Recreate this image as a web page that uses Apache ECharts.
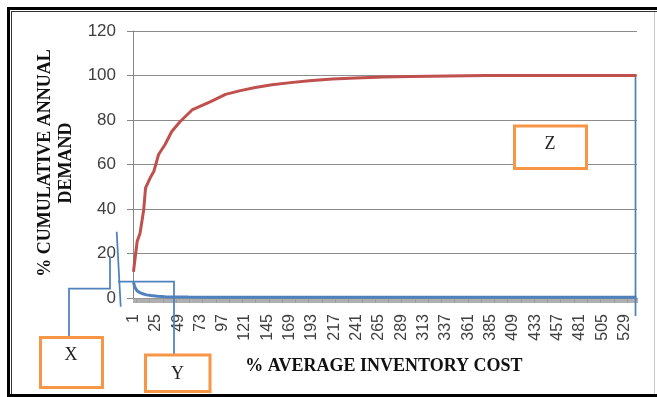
<!DOCTYPE html>
<html>
<head>
<meta charset="utf-8">
<script src="https://cdn.jsdelivr.net/npm/echarts@6/dist/echarts.min.js"></script>
<style>
  html, body { margin: 0; padding: 0; background: #ffffff; }
  #chart { width: 657px; height: 397px; }
</style>
</head>
<body>
<div id="chart"></div>
<script>
// Item ranks along the horizontal axis (1 .. 542)
const itemCount = 542;
const ranks = [];
for (let i = 1; i <= itemCount; i++) ranks.push(String(i));

// Cumulative annual demand (%) at selected ranks
const demandRank = [1, 5, 8, 12, 14, 19, 23, 28, 35, 42, 51, 64, 84, 100, 116, 132, 150, 170, 190, 215, 240, 270, 300, 340, 380, 430, 480, 542];
const demandPct  = [11.8, 25.5, 29, 39.5, 49.5, 54, 57, 64.5, 69, 74.7, 79.2, 84.5, 88.3, 91.5, 93.2, 94.6, 95.8, 96.8, 97.6, 98.4, 98.9, 99.3, 99.6, 99.8, 100, 100, 100, 100];

// Average inventory cost (%) at selected ranks
const costRank = [1, 2, 3, 5, 8, 11, 15, 20, 27, 35, 45, 60, 80, 120, 542];
const costPct  = [7, 5.6, 4.4, 3.2, 2.4, 1.9, 1.4, 1.1, 0.8, 0.6, 0.5, 0.4, 0.3, 0.3, 0.3];

// y-axis ticks
const yMin = 0, yMax = 120, yStep = 20;

const pairs = (xs, ys) => xs.map((x, i) => [x - 1, ys[i]]);

const blue = '#4f81bd';
const orange = '#f79646';
const serif = '"Liberation Serif", "Times New Roman", serif';
const sans = '"Liberation Sans", Arial, sans-serif';

function box(x, y, w, h, label, tx, ty) {
  return [
    { type: 'rect', shape: { x: x, y: y, width: w, height: h },
      style: { fill: '#ffffff', stroke: orange, lineWidth: 3 }, z: 20 },
    { type: 'text', x: tx, y: ty, z: 21,
      style: { text: label, font: '18px ' + serif, fill: '#222222', align: 'center', verticalAlign: 'middle' } }
  ];
}
function seg(points) {
  return { type: 'polyline', shape: { points: points }, z: 15,
    style: { stroke: blue, lineWidth: 1.75, fill: null } };
}

const chart = echarts.init(document.getElementById('chart'), null, { renderer: 'canvas' });
chart.setOption({
  animation: false,
  backgroundColor: '#ffffff',
  grid: { left: 133, right: 20, top: 31, bottom: 99 },
  xAxis: {
    type: 'category',
    data: ranks,
    boundaryGap: true,
    axisLine: { show: true, lineStyle: { color: '#868686', width: 1 } },
    axisTick: { show: true, interval: 0, length: 5, lineStyle: { color: '#9a9a9a', width: 0.8 } },
    axisLabel: { interval: 23, rotate: 90, margin: 16, fontFamily: sans, fontSize: 16, color: '#404040' },
    splitLine: { show: false }
  },
  yAxis: {
    type: 'value',
    min: yMin, max: yMax, interval: yStep,
    axisLine: { show: true, lineStyle: { color: '#868686', width: 1 } },
    axisTick: { show: true, length: 6, lineStyle: { color: '#868686' } },
    axisLabel: { margin: 17, fontFamily: sans, fontSize: 17, color: '#404040' },
    splitLine: { show: true, lineStyle: { color: '#8c8c8c', width: 1 } }
  },
  series: [
    { name: 'cost', type: 'line', data: pairs(costRank, costPct), showSymbol: false,
      lineStyle: { color: blue, width: 3 }, itemStyle: { color: blue }, z: 3 },
    { name: 'demand', type: 'line', data: pairs(demandRank, demandPct), showSymbol: false,
      lineStyle: { color: '#c0504d', width: 3 }, itemStyle: { color: '#c0504d' }, z: 4 }
  ],
  graphic: [
    // page frame
    { type: 'rect', shape: { x: 7, y: 7, width: 650, height: 3 }, style: { fill: '#000000' }, z: 30 },
    { type: 'rect', shape: { x: 7, y: 7, width: 3, height: 390 }, style: { fill: '#000000' }, z: 30 },
    { type: 'rect', shape: { x: 7, y: 394, width: 650, height: 3 }, style: { fill: '#000000' }, z: 30 },
    { type: 'line', shape: { x1: 11.5, y1: 11, x2: 11.5, y2: 394 }, style: { stroke: '#333333', lineWidth: 1 }, z: 30 },
    { type: 'line', shape: { x1: 11, y1: 11.5, x2: 657, y2: 11.5 }, style: { stroke: '#333333', lineWidth: 1 }, z: 30 },
    { type: 'line', shape: { x1: 654.5, y1: 12, x2: 654.5, y2: 394 }, style: { stroke: '#c8c8c8', lineWidth: 1 }, z: 30 },

    // axis titles
    { type: 'text', x: 45, y: 163, rotation: Math.PI / 2, z: 10,
      style: { text: '% CUMULATIVE ANNUAL', font: 'bold 18px ' + serif, fill: '#111111', align: 'center', verticalAlign: 'middle' } },
    { type: 'text', x: 66, y: 163, rotation: Math.PI / 2, z: 10,
      style: { text: 'DEMAND', font: 'bold 18px ' + serif, fill: '#111111', align: 'center', verticalAlign: 'middle' } },
    { type: 'text', x: 384, y: 366, z: 10,
      style: { text: '% AVERAGE INVENTORY COST', font: 'bold 18px ' + serif, fill: '#111111', align: 'center', verticalAlign: 'middle' } },

    // callout connectors
    seg([[110, 257], [110, 288.5], [69, 288.5], [69, 337]]),
    seg([[116.7, 231.7], [120.7, 306.7]]),
    seg([[118, 281.5], [174, 281.5], [174, 355]]),
    seg([[635.5, 77], [635.5, 316]]),

    // callout boxes
    ...box(40.5, 337.5, 62, 50, 'X', 71, 355),
    ...box(145.5, 355, 64.5, 36.5, 'Y', 177.5, 374),
    ...box(514.5, 126, 72, 42.5, 'Z', 550, 144)
  ]
});
</script>
</body>
</html>
